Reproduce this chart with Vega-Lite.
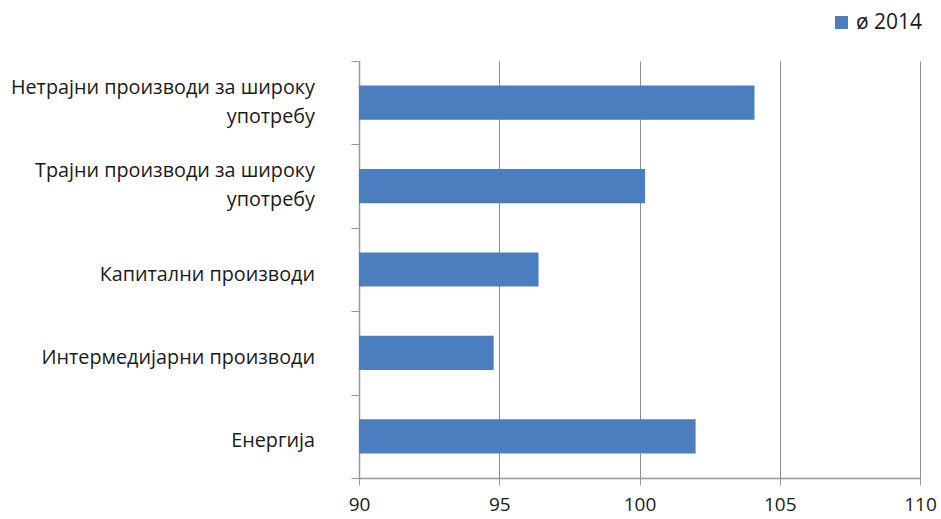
{
  "$schema": "https://vega.github.io/schema/vega-lite/v6.json",
  "autosize": {"type": "none"},
  "width": 561,
  "height": 417,
  "padding": {"left": 359, "top": 61, "right": 21, "bottom": 41},
  "background": "white",
  "config": {
    "view": {"stroke": null},
    "font": "Open Sans",
    "axis": {"labelFont": "Open Sans", "labelColor": "#1a1a1a", "labelFontSize": 19}
  },
  "data": {
    "values": [
      {"category": "Нетрајни производи за широку употребу", "label": ["Нетрајни производи за широку", "употребу "], "nlines": 2, "series": "ø 2014", "value": 104.1},
      {"category": "Трајни производи за широку употребу", "label": ["Трајни производи за широку", "употребу"], "nlines": 2, "series": "ø 2014", "value": 100.2},
      {"category": "Капитални производи", "label": ["Капитални производи"], "nlines": 1, "series": "ø 2014", "value": 96.4},
      {"category": "Интермедијарни производи", "label": ["Интермедијарни производи"], "nlines": 1, "series": "ø 2014", "value": 94.8},
      {"category": "Енергија", "label": ["Енергија"], "nlines": 1, "series": "ø 2014", "value": 102.0}
    ]
  },
  "encoding": {
    "y": {
      "field": "category",
      "type": "nominal",
      "sort": null,
      "title": null,
      "scale": {"paddingInner": 0, "paddingOuter": 0},
      "axis": {
        "tickBand": "extent",
        "ticks": true,
        "tickSize": 8,
        "tickColor": "#999999",
        "domainColor": "#999999",
        "domainWidth": 1.5,
        "labels": false,
        "grid": false
      }
    }
  },
  "layer": [
    {
      "mark": {"type": "bar", "height": {"band": 0.41}},
      "encoding": {
        "x": {
          "field": "value",
          "type": "quantitative",
          "title": null,
          "scale": {"domain": [90, 110], "zero": false, "nice": false},
          "axis": {
            "values": [90, 95, 100, 105, 110],
            "grid": true,
            "gridColor": "#8f8f8f",
            "gridWidth": 1,
            "tickSize": 7,
            "tickColor": "#999999",
            "domainColor": "#999999",
            "domainWidth": 1.5,
            "labelPadding": 10,
            "labelFlush": false,
            "labelFontSize": 19
          }
        },
        "x2": {"datum": 90},
        "color": {
          "field": "series",
          "type": "nominal",
          "scale": {"range": ["#4A7EBE"]},
          "legend": {
            "title": null,
            "orient": "none",
            "legendX": 472,
            "legendY": -49,
            "symbolType": "square",
            "symbolSize": 170,
            "symbolStrokeWidth": 0,
            "labelFontSize": 21,
            "labelFont": "Open Sans",
            "labelColor": "#1a1a1a"
          }
        }
      }
    },
    {
      "transform": [{"filter": "datum.nlines == 2"}],
      "mark": {"type": "text", "align": "right", "baseline": "middle", "dx": -44, "dy": -15, "font": "Open Sans", "fontSize": 19.8, "lineHeight": 29, "color": "#1a1a1a"},
      "encoding": {
        "x": {"datum": 90},
        "text": {"field": "label"}
      }
    },
    {
      "transform": [{"filter": "datum.nlines == 1"}],
      "mark": {"type": "text", "align": "right", "baseline": "middle", "dx": -44, "dy": 5, "font": "Open Sans", "fontSize": 19.8, "lineHeight": 28, "color": "#1a1a1a"},
      "encoding": {
        "x": {"datum": 90},
        "text": {"field": "label"}
      }
    }
  ]
}
